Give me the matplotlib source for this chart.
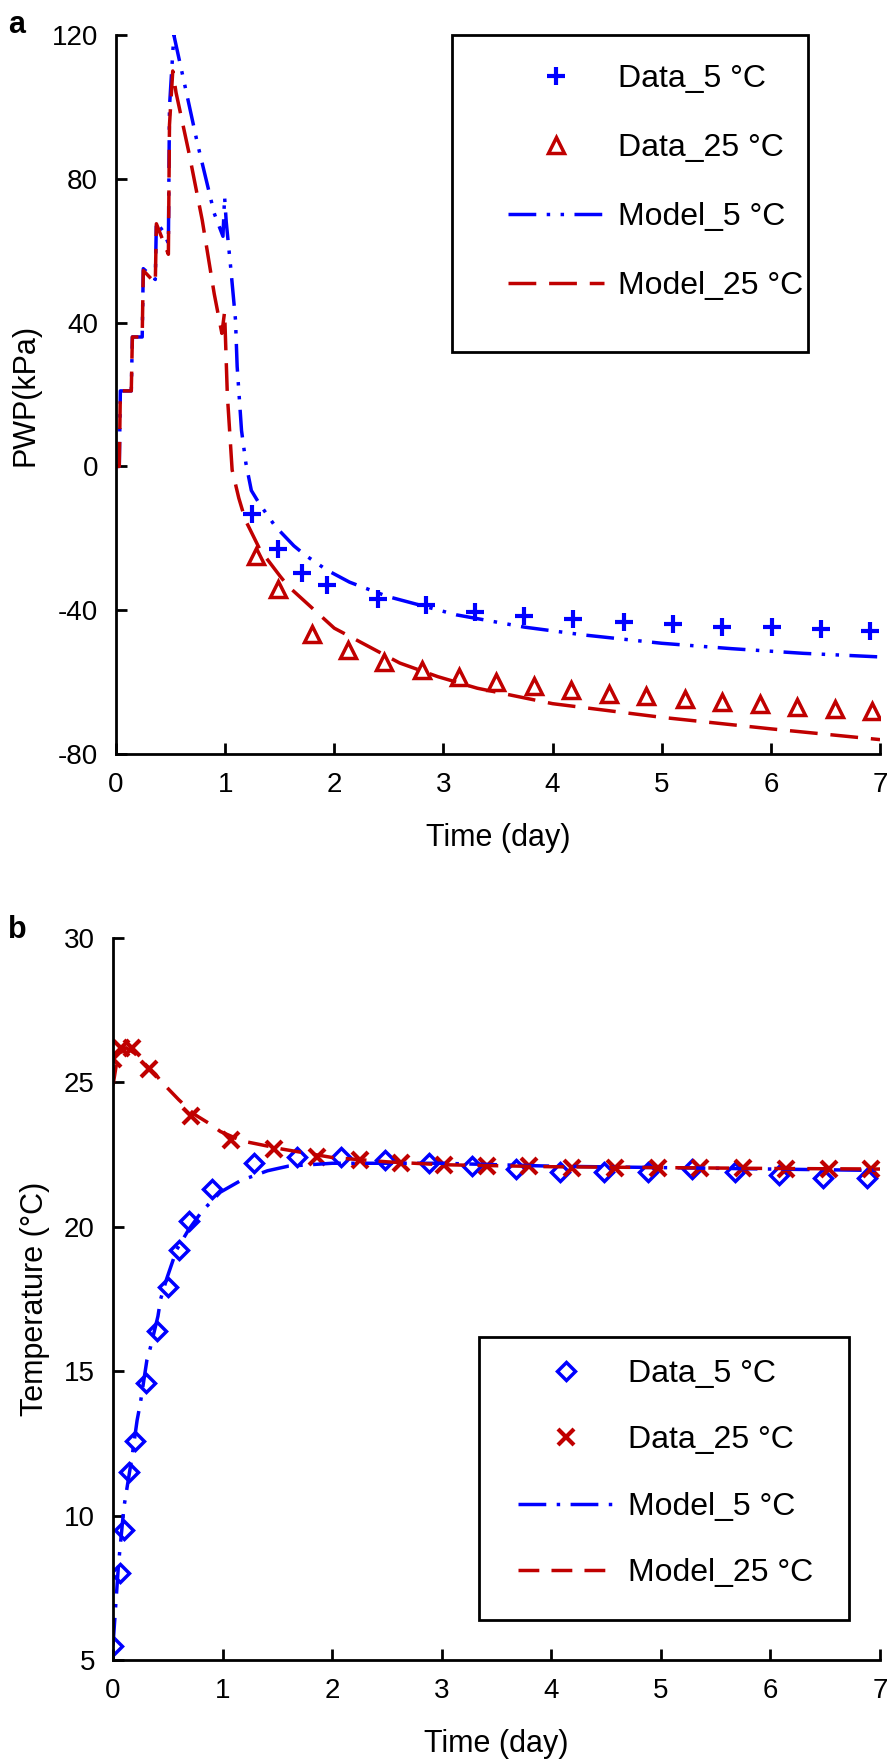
import numpy as np
import matplotlib
matplotlib.use('Agg')
import matplotlib.pyplot as plt
from matplotlib.patches import Rectangle

plt.rcParams['font.family'] = ['Liberation Sans', 'DejaVu Sans']
plt.rcParams['axes.unicode_minus'] = False

azul = '#0000FF'
rojo = '#C00000'

# ---- panel a : presion de poros ----
t_dato5_a = [1.25, 1.48, 1.70, 1.93, 2.40, 2.84, 3.29, 3.74, 4.19, 4.65, 5.10, 5.55, 6.01, 6.46, 6.91]
pwp_dato5 = [-13.2, -23.0, -29.7, -33.1, -36.8, -38.5, -40.4, -41.5, -42.5, -43.2, -43.8, -44.6, -44.7, -45.3, -45.7]

t_dato25_a = [1.28, 1.48, 1.80, 2.13, 2.46, 2.80, 3.14, 3.48, 3.83, 4.17, 4.52, 4.86, 5.21, 5.55, 5.90, 6.24, 6.59, 6.93]
pwp_dato25 = [-25, -34, -46.5, -51, -54.5, -56.6, -58.5, -60, -61.2, -62.2, -63.2, -64, -64.8, -65.5, -66.2, -66.8, -67.4, -68]

t_modelo5_a = [0, 0.03, 0.04, 0.14, 0.15, 0.24, 0.25, 0.36, 0.37, 0.44, 0.48, 0.49, 0.53, 0.64, 0.745, 0.90,
               0.98, 0.995, 1.01, 1.05, 1.095, 1.11, 1.15, 1.19, 1.24, 1.31, 1.46, 1.63, 1.73, 1.93, 2.14,
               2.27, 2.49, 3.12, 3.74, 4.29, 5.0, 5.64, 6.3, 7.0]
pwp_modelo5 = [0, 0, 21, 21, 36, 36, 55, 52, 68, 65, 62, 100, 120, 104.7, 90, 70.4,
               64, 75, 68, 55.6, 40.7, 27.8, 10, 0.9, -6.7, -10.2, -16.7, -22.1, -24.6, -28.8, -32.2,
               -33.7, -36.2, -41.3, -44.7, -46.9, -49.2, -50.7, -52, -53]

t_modelo25_a = [0, 0.03, 0.04, 0.14, 0.15, 0.24, 0.25, 0.36, 0.37, 0.48, 0.49, 0.52, 0.55, 0.67, 0.79, 0.90,
                0.97, 0.995, 1.02, 1.064, 1.125, 1.185, 1.32, 1.505, 1.58, 2.0, 2.6, 2.95, 3.31, 4.0,
                5.0, 6.0, 7.0]
pwp_modelo25 = [0, 0, 21, 21, 36, 36, 54.5, 51, 67.5, 59, 95, 110, 104, 87, 68.5, 48,
                37, 43, 20, -1, -8.8, -14.9, -23.2, -30.6, -33.4, -45, -54.7, -58.5, -61.7, -66,
                -69.8, -73, -76]

# ---- panel b : temperatura ----
t_dato5_b = [0.0, 0.06, 0.10, 0.15, 0.20, 0.30, 0.40, 0.50, 0.60, 0.69, 0.90, 1.29, 1.68, 2.08, 2.48,
             2.88, 3.28, 3.68, 4.08, 4.48, 4.88, 5.28, 5.68, 6.08, 6.48, 6.88]
temp_dato5 = [5.5, 8.0, 9.5, 11.5, 12.6, 14.6, 16.4, 17.9, 19.2, 20.2, 21.3, 22.2, 22.4, 22.4, 22.3,
              22.2, 22.1, 22.0, 21.9, 21.9, 21.9, 22.0, 21.9, 21.8, 21.7, 21.7]

t_dato25_b = [0.0, 0.07, 0.17, 0.33, 0.71, 1.08, 1.47, 1.86, 2.25, 2.63, 3.02, 3.41, 3.80, 4.19, 4.58,
              4.97, 5.36, 5.75, 6.14, 6.53, 6.92]
temp_dato25 = [25.8, 26.2, 26.2, 25.45, 23.85, 23.0, 22.7, 22.4, 22.3, 22.2, 22.15, 22.1, 22.1, 22.05,
               22.05, 22.05, 22.05, 22.05, 22.0, 22.0, 22.0]

t_modelo5_b = [0, 0.05, 0.10, 0.176, 0.22, 0.25, 0.31, 0.34, 0.41, 0.435, 0.49, 0.58, 0.69, 0.815,
               0.98, 1.165, 1.41, 1.6, 2.0, 3.0, 4.0, 5.0, 6.0, 7.0]
temp_modelo5 = [5.5, 8.3, 10.3, 12.1, 13.3, 13.9, 15.4, 15.8, 16.9, 17.5, 18.2, 19.2, 19.9, 20.55,
                21.2, 21.6, 21.94, 22.1, 22.2, 22.2, 22.1, 22.05, 22.0, 21.95]

t_modelo25_b = [0, 0.03, 0.08, 0.12, 0.2, 0.28, 0.39, 0.435, 0.6, 0.74, 0.89, 0.98, 1.18, 1.3, 1.545,
                2.0, 2.5, 3.0, 4.0, 5.0, 6.0, 7.0]
temp_modelo25 = [24.9, 25.6, 26.1, 26.2, 26.0, 25.68, 25.28, 25.05, 24.4, 23.9, 23.55, 23.3, 22.97,
                 22.88, 22.69, 22.4, 22.25, 22.15, 22.08, 22.05, 22.02, 22.0]

W, H = 890, 1762
fig = plt.figure(figsize=(W/100, H/100), dpi=100)

fs = 20      # ticks
fl = 22      # axis labels
fley = 23    # legend

def ejes(x0, x1, y0, y1):
    ax = fig.add_axes([x0/W, 1 - y1/H, (x1 - x0)/W, (y1 - y0)/H])
    for s in ['top', 'right']:
        ax.spines[s].set_visible(False)
    for s in ['left', 'bottom']:
        ax.spines[s].set_linewidth(2)
    ax.tick_params(direction='in', length=8, width=2, labelsize=fs, pad=13)
    return ax

def leyenda(ax, ancla, esp, marco):
    leg = ax.legend(loc='upper left', bbox_to_anchor=ancla, fontsize=fley, frameon=False,
                    handlelength=3.0, labelspacing=esp, borderpad=0, handletextpad=0.45,
                    borderaxespad=0)
    ax.add_patch(Rectangle(marco[:2], marco[2], marco[3], transform=ax.transAxes,
                           fill=False, edgecolor='black', lw=2, clip_on=False))
    return leg

# panel a
ax1 = ejes(116, 880, 35, 754)
ax1.plot(t_dato5_a, pwp_dato5, linestyle='none', marker='+', markersize=13, mew=3, color=azul, label='Data_5 °C')
ax1.plot(t_dato25_a, pwp_dato25, linestyle='none', marker='^', markersize=11, mew=2.5, mfc='none', color=rojo, label='Data_25 °C')
ax1.plot(t_modelo5_a, pwp_modelo5, color=azul, lw=2.5, dashes=(8, 3, 1, 3, 1, 3), label='Model_5 °C')
ax1.plot(t_modelo25_a, pwp_modelo25, color=rojo, lw=2.5, dashes=(8, 3.7), label='Model_25 °C')
ax1.set_xlim(0, 7)
ax1.set_ylim(-80, 120)
ax1.set_xticks(np.arange(0, 8, 1))
ax1.set_yticks(np.arange(-80, 121, 40))
ax1.set_xlabel('Time (day)', fontsize=fl, labelpad=18)
ax1.set_ylabel('PWP(kPa)', fontsize=fl, labelpad=8)
leyenda(ax1, (0.513, 0.959), 1.215, (0.44, 0.559, 0.466, 0.441))

# panel b
ax2 = ejes(113, 880, 938, 1660)
ax2.plot(t_dato5_b, temp_dato5, linestyle='none', marker='D', markersize=9, mew=2.5, mfc='none', color=azul, label='Data_5 °C')
ax2.plot(t_dato25_b, temp_dato25, linestyle='none', marker='x', markersize=11, mew=3, color=rojo, label='Data_25 °C')
ax2.plot(t_modelo5_b, temp_modelo5, color=azul, lw=2.5, dashes=(8, 3, 1, 3), label='Model_5 °C')
ax2.plot(t_modelo25_b, temp_modelo25, color=rojo, lw=2.5, dashes=(6, 3.5), label='Model_25 °C')
ax2.set_xlim(0, 7)
ax2.set_ylim(5, 30)
ax2.set_xticks(np.arange(0, 8, 1))
ax2.set_yticks(np.arange(5, 31, 5))
ax2.set_xlabel('Time (day)', fontsize=fl, labelpad=18)
ax2.set_ylabel('Temperature (°C)', fontsize=fl, labelpad=10)
leyenda(ax2, (0.528, 0.417), 1.14, (0.477, 0.055, 0.483, 0.392))

fig.text(8/W, 1 - 25/H, 'a', fontsize=fl, fontweight='bold', va='center')
fig.text(8/W, 1 - 930/H, 'b', fontsize=fl, fontweight='bold', va='center')

fig.savefig('out.png', dpi=100)
